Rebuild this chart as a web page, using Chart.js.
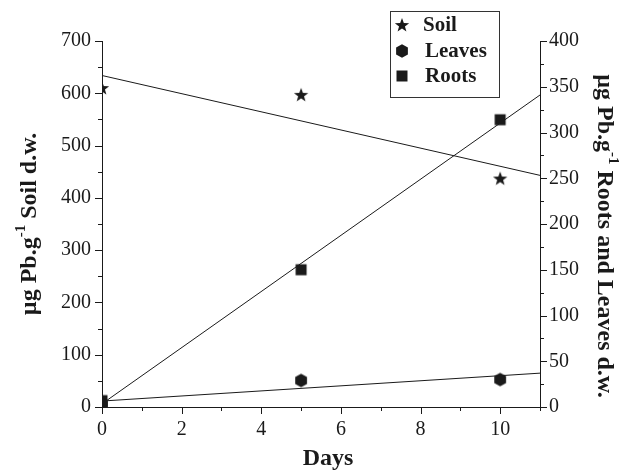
<!DOCTYPE html>
<html><head><meta charset="utf-8">
<script src="https://cdn.jsdelivr.net/npm/chart.js@4.4.1/dist/chart.umd.min.js"></script>
<style>html,body{margin:0;padding:0;background:#fff}#wrap{width:622px;height:475px}</style>
</head><body><div id="wrap"><canvas id="c" width="622" height="475"></canvas></div>
<script>
// ---- data ----
const days = [0, 5, 10];
const soil = [610, 597, 437];          // left axis
const leaves = [3, 29, 30];            // right axis
const roots = [7, 150, 314];           // right axis
const fitDays = [0, 11];
const soilFit = [634, 443];
const leavesFit = [6.5, 37];
const rootsFit = [3.5, 341];
const xRange = [0, 11], xStep = 2, xMinor = 1;
const yRange = [0, 700], yStep = 100, yMinor = 50;
const y1Range = [0, 400], y1Step = 50, y1Minor = 25;
const legendLabels = ['Soil', 'Leaves', 'Roots'];

const INK = '#1a1a1a';
const SERIF = '"Liberation Serif", "Times New Roman", serif';

function makeMarker(kind) {
  const s = 16, c = document.createElement('canvas');
  c.width = s; c.height = s;
  const g = c.getContext('2d');
  g.fillStyle = INK;
  g.beginPath();
  const cx = s / 2, cy = s / 2;
  if (kind === 'star') {
    const R = 7.5, r = 3.1;
    for (let i = 0; i < 10; i++) {
      const a = -Math.PI / 2 + i * Math.PI / 5;
      const rr = i % 2 ? r : R;
      const px = cx + rr * Math.cos(a), py = cy + 0.5 + rr * Math.sin(a);
      i ? g.lineTo(px, py) : g.moveTo(px, py);
    }
  } else if (kind === 'hex') {
    const R = 6.8;
    for (let i = 0; i < 6; i++) {
      const a = -Math.PI / 2 + i * Math.PI / 3;
      const px = cx + R * Math.cos(a), py = cy + R * Math.sin(a);
      i ? g.lineTo(px, py) : g.moveTo(px, py);
    }
  } else {
    g.rect(cx - 5.5, cy - 5.5, 11, 11);
  }
  g.closePath();
  g.fill();
  return c;
}
const mStar = makeMarker('star'), mHex = makeMarker('hex'), mSq = makeMarker('sq');

const pts = (xs, ys) => xs.map((x, i) => ({ x, y: ys[i] }));

function drawTitle(ctx, parts, cx, cy, angle) {
  ctx.save();
  ctx.translate(cx, cy);
  ctx.rotate(angle);
  ctx.fillStyle = INK;
  ctx.textBaseline = 'middle';
  ctx.textAlign = 'left';
  const fonts = parts.map(p => p.sup ? 'bold 15px ' + SERIF : 'bold 24px ' + SERIF);
  let total = 0;
  const widths = parts.map((p, i) => { ctx.font = fonts[i]; const w = ctx.measureText(p.t).width; total += w; return w; });
  let x = -total / 2;
  parts.forEach((p, i) => {
    ctx.font = fonts[i];
    ctx.fillText(p.t, x, p.sup ? -9 : 0);
    x += widths[i];
  });
  ctx.restore();
}

const decor = {
  id: 'decor',
  afterDraw(chart) {
    const ctx = chart.ctx;
    const sx = chart.scales.x, sy = chart.scales.y, sy1 = chart.scales.y1;
    const a = chart.chartArea;
    ctx.save();
    ctx.strokeStyle = INK;
    ctx.lineWidth = 1;
    ctx.beginPath();
    for (let v = xRange[0]; v <= xRange[1] + 1e-9; v += xMinor) {
      const p = Math.round(sx.getPixelForValue(v)) + 0.5;
      const L = (v % xStep === 0) ? 7 : 4;
      ctx.moveTo(p, a.bottom); ctx.lineTo(p, a.bottom + L);
    }
    for (let v = yRange[0]; v <= yRange[1] + 1e-9; v += yMinor) {
      const p = Math.round(sy.getPixelForValue(v)) + 0.5;
      const L = (v % yStep === 0) ? 7 : 4;
      ctx.moveTo(a.left, p); ctx.lineTo(a.left - L, p);
    }
    for (let v = y1Range[0]; v <= y1Range[1] + 1e-9; v += y1Minor) {
      const p = Math.round(sy1.getPixelForValue(v)) + 0.5;
      const L = (v % y1Step === 0) ? 7 : 4;
      ctx.moveTo(a.right, p); ctx.lineTo(a.right + L, p);
    }
    ctx.stroke();

    // legend
    ctx.strokeStyle = '#333';
    ctx.strokeRect(390.5, 11.5, 109, 86);
    const marks = [mStar, mHex, mSq];
    const rows = [25, 51, 76];
    ctx.fillStyle = INK;
    ctx.font = 'bold 21px ' + SERIF;
    ctx.textBaseline = 'middle';
    ctx.textAlign = 'left';
    legendLabels.forEach((t, i) => {
      ctx.drawImage(marks[i], 402 - 8, rows[i] - 8);
      ctx.fillText(t, i === 0 ? 423 : 425, rows[i] + 1);
    });
    ctx.restore();

    // axis titles
    drawTitle(ctx, [{ t: 'µg Pb.g' }, { t: '-1', sup: true }, { t: ' Soil d.w.' }], 30, 224, -Math.PI / 2);
    drawTitle(ctx, [{ t: 'µg Pb.g' }, { t: '-1', sup: true }, { t: ' Roots and Leaves d.w.' }], 604, 236, Math.PI / 2);
    ctx.save();
    ctx.fillStyle = INK;
    ctx.font = 'bold 24px ' + SERIF;
    ctx.textAlign = 'center';
    ctx.textBaseline = 'middle';
    ctx.fillText('Days', (a.left + a.right) / 2 + 7, 459);
    ctx.restore();
  }
};

const tickFont = { family: SERIF, size: 20 };

new Chart(document.getElementById('c'), {
  type: 'scatter',
  data: {
    datasets: [
      { type: 'line', data: pts(fitDays, soilFit), yAxisID: 'y', borderColor: INK, borderWidth: 1, pointRadius: 0, fill: false },
      { type: 'line', data: pts(fitDays, rootsFit), yAxisID: 'y1', borderColor: INK, borderWidth: 1, pointRadius: 0, fill: false },
      { type: 'line', data: pts(fitDays, leavesFit), yAxisID: 'y1', borderColor: INK, borderWidth: 1, pointRadius: 0, fill: false },
      { label: legendLabels[0], data: pts(days, soil), yAxisID: 'y', pointStyle: mStar, pointRadius: 8 },
      { label: legendLabels[1], data: pts(days, leaves), yAxisID: 'y1', pointStyle: mHex, pointRadius: 8 },
      { label: legendLabels[2], data: pts(days, roots), yAxisID: 'y1', pointStyle: mSq, pointRadius: 8 }
    ]
  },
  options: {
    responsive: false,
    animation: false,
    devicePixelRatio: 1,
    layout: { padding: { top: 41, left: 0, right: 0, bottom: 0 } },
    plugins: { legend: { display: false }, tooltip: { enabled: false } },
    scales: {
      x: {
        type: 'linear', min: xRange[0], max: xRange[1],
        ticks: { stepSize: xStep, includeBounds: false, font: tickFont, color: INK, padding: 11 },
        grid: { display: false, drawTicks: false },
        border: { display: true, color: INK, width: 1 },
        afterFit(s) { s.height = 68; }
      },
      y: {
        type: 'linear', position: 'left', min: yRange[0], max: yRange[1],
        ticks: { stepSize: yStep, font: tickFont, color: INK, padding: 11 },
        grid: { display: false, drawTicks: false },
        border: { display: true, color: INK, width: 1 },
        afterFit(s) { s.width = 102; }
      },
      y1: {
        type: 'linear', position: 'right', min: y1Range[0], max: y1Range[1],
        ticks: { stepSize: y1Step, font: tickFont, color: INK, padding: 9 },
        grid: { display: false, drawTicks: false },
        border: { display: true, color: INK, width: 1 },
        afterFit(s) { s.width = 82; }
      }
    }
  },
  plugins: [decor]
});
</script>
</body></html>
